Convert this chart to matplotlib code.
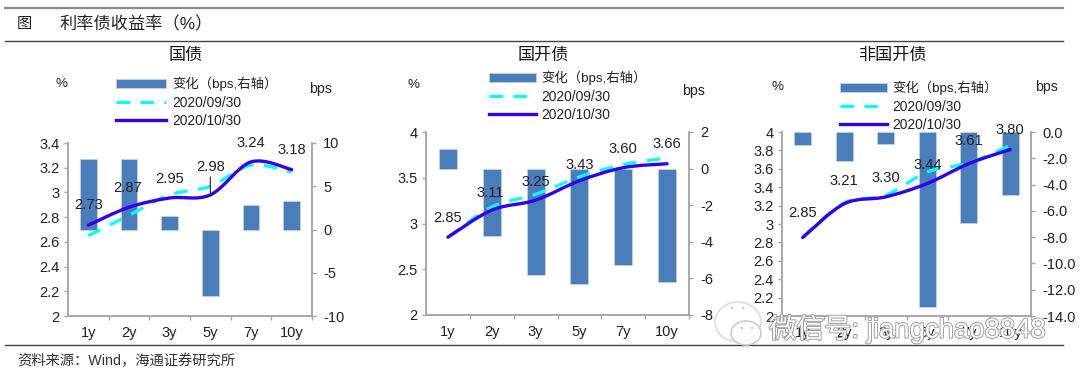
import numpy as np
import matplotlib
matplotlib.use('Agg')
import matplotlib.pyplot as plt
from matplotlib.patches import PathPatch, Ellipse
from matplotlib.path import Path
from matplotlib.lines import Line2D
import matplotlib.patheffects as pe

plt.rcParams['font.family'] = ['Liberation Sans', 'Noto Sans CJK SC', 'DejaVu Sans']

W, H = 1080, 379

cats = ['1y', '2y', '3y', '5y', '7y', '10y']

# 国债
gz_change = [8.2, 8.2, 1.6, -7.7, 2.8, 3.35]
gz_sep = [2.65, 2.815, 2.98, 3.05, 3.22, 3.165]
gz_oct = [2.735, 2.88, 2.955, 2.98, 3.247, 3.185]
gz_labels = ['2.73', '2.87', '2.95', '2.98', '3.24', '3.18']

# 国开债
gk_change = [1.08, -3.7, -5.8, -6.3, -5.25, -6.2]
gk_sep = [2.85, 3.18, 3.32, 3.51, 3.645, 3.715]
gk_oct = [2.85, 3.146, 3.255, 3.467, 3.61, 3.653]
gk_labels = ['2.85', '3.11', '3.25', '3.43', '3.60', '3.66']

# 非国开债
fg_change = [-1.0, -2.2, -0.9, -13.3, -6.9, -4.8]
fg_sep = [2.86, 3.23, 3.313, 3.566, 3.664, 3.855]
fg_oct = [2.853, 3.22, 3.295, 3.44, 3.656, 3.81]
fg_labels = ['2.85', '3.21', '3.30', '3.44', '3.61', '3.80']

BAR = '#4a7ebb'
GRAY = '#a6a6a6'
TXT = '#222222'
DASH = (0, (4.2, 3.3))


def fx(x):
    return x / W


def fy(y):
    return 1 - y / H


def smooth(xs, ys):
    # excel style smoothed line, goes through the values
    xs, ys = np.asarray(xs, float), np.asarray(ys, float)
    verts = [(xs[0], ys[0])]
    codes = [Path.MOVETO]
    n = len(xs)
    for i in range(n - 1):
        a, d = max(i - 1, 0), min(i + 2, n - 1)
        verts.append((xs[i] + (xs[i + 1] - xs[a]) / 6, ys[i] + (ys[i + 1] - ys[a]) / 6))
        verts.append((xs[i + 1] - (xs[d] - xs[i]) / 6, ys[i + 1] - (ys[d] - ys[i]) / 6))
        verts.append((xs[i + 1], ys[i + 1]))
        codes += [Path.CURVE4] * 3
    return Path(verts, codes)


def panel(box, title, title_x, change, sep, oct_, labels, offs, ylim, yticks, ylabs,
          rlim, rticks, rlabs, leg_xy, pct_xy, bps_xy, hlen=3.66, bar_w=0.41):
    l, t, r, b = box
    ax = fig.add_axes([fx(l), fy(b), (r - l) / W, (b - t) / H])
    ax2 = ax.twinx()
    x = np.arange(len(cats))
    ax2.bar(x, change, width=bar_w, color=BAR, edgecolor='#c5d5ea', linewidth=0.5)
    ax2.set_ylim(*rlim)
    ax2.set_yticks(rticks)
    ax2.set_yticklabels(rlabs)

    ax.set_zorder(ax2.get_zorder() + 1)
    ax.patch.set_visible(False)
    ax.set_xlim(-0.5, len(cats) - 0.5)
    ax.set_ylim(*ylim)
    ax.set_yticks(yticks)
    ax.set_yticklabels(ylabs)
    ax.set_xticks(x + 0.5)
    ax.set_xticklabels([])
    ax.set_xticks(x, minor=True)
    ax.set_xticklabels(cats, minor=True)
    ax.tick_params(axis='x', which='minor', length=0, labelsize=10.5, labelcolor=TXT, pad=7)
    ax.tick_params(axis='x', which='major', length=3, color=GRAY, width=1)
    ax.tick_params(axis='y', length=3, color=GRAY, width=1, labelsize=10.5, labelcolor=TXT, pad=3)
    ax2.tick_params(axis='y', length=3, color=GRAY, width=1, labelsize=10.5, labelcolor=TXT, pad=5)
    for a in (ax, ax2):
        a.spines['top'].set_visible(False)
        for s in ('left', 'right', 'bottom'):
            a.spines[s].set_color(GRAY)
            a.spines[s].set_linewidth(1.1)

    ax.add_patch(PathPatch(smooth(x, sep), fill=False, edgecolor='#00ffff', lw=2.3,
                           linestyle=DASH, zorder=3))
    ax.add_patch(PathPatch(smooth(x, oct_), fill=False, edgecolor='#3300ee', lw=2.4,
                           capstyle='round', zorder=4))

    for i, lab in enumerate(labels):
        ax.annotate(lab, (x[i], oct_[i]), xytext=offs[i], textcoords='offset pixels',
                    ha='center', va='center', fontsize=10.6, color=TXT, zorder=6)

    handles = [
        plt.Rectangle((0, 0), 1, 1, facecolor=BAR, edgecolor='#c5d5ea', linewidth=0.5),
        Line2D([0], [0], color='#00ffff', lw=2.3, linestyle=DASH),
        Line2D([0], [0], color='#3300ee', lw=2.4),
    ]
    leg = fig.legend(handles, ['变化（bps,右轴）', '2020/09/30', '2020/10/30'],
                     loc='upper left', bbox_to_anchor=(fx(leg_xy[0]), fy(leg_xy[1])),
                     frameon=False, fontsize=9.9, handlelength=hlen, handleheight=0.65,
                     labelspacing=0.3, handletextpad=0.42, borderpad=0, borderaxespad=0)
    for txt in leg.get_texts():
        txt.set_color(TXT)
    leg.get_texts()[0].set_fontsize(9.6)

    fig.text(fx(title_x), fy(55), title, ha='center', va='center', fontsize=12.3,
             color='#111111', fontweight='medium')
    fig.text(fx(pct_xy[0]), fy(pct_xy[1]), '%', ha='center', va='center', fontsize=9.6, color=TXT)
    fig.text(fx(bps_xy[0]), fy(bps_xy[1]), 'bps', ha='center', va='center', fontsize=10.2, color=TXT)
    return ax, ax2


fig = plt.figure(figsize=(W / 100, H / 100), dpi=100)

ax1, _ = panel((68, 143, 312, 316), '国债', 186, gz_change, gz_sep, gz_oct, gz_labels,
               [(0, 20), (-1, 19), (0, 19), (0, 28), (0, 19), (0, 20)],
               (2, 3.4), [2, 2.2, 2.4, 2.6, 2.8, 3, 3.2, 3.4],
               ['2', '2.2', '2.4', '2.6', '2.8', '3', '3.2', '3.4'],
               (-10, 10), [-10, -5, 0, 5, 10], ['-10', '-5', '0', '5', '10'],
               (116, 77), (61, 84), (320, 89))
# leader line of the 5y label
ax1.annotate('', (3, gz_oct[3]), xytext=(0, 18), textcoords='offset pixels',
             arrowprops=dict(arrowstyle='-', color='#222222', lw=0.8, shrinkA=0, shrinkB=0), zorder=5)

panel((426, 132, 689, 315), '国开债', 543, gk_change, gk_sep, gk_oct, gk_labels,
      [(0, 19), (-1, 17), (0, 18), (0, 16), (0, 19), (0, 20)],
      (2, 4), [2, 2.5, 3, 3.5, 4], ['2', '2.5', '3', '3.5', '4'],
      (-8, 2), [-8, -6, -4, -2, 0, 2], ['-8', '-6', '-4', '-2', '0', '2'],
      (489, 71), (414, 85), (693, 91), hlen=3.4)

panel((782, 132, 1031, 316), '非国开债', 892, fg_change, fg_sep, fg_oct, fg_labels,
      [(0, 25), (0, 23), (0, 19), (0, 19), (0, 23), (0, 19)],
      (2, 4), [2, 2.2, 2.4, 2.6, 2.8, 3, 3.2, 3.4, 3.6, 3.8, 4],
      ['2', '2.2', '2.4', '2.6', '2.8', '3', '3.2', '3.4', '3.6', '3.8', '4'],
      (-14, 0), [-14, -12, -10, -8, -6, -4, -2, 0],
      ['-14.0', '-12.0', '-10.0', '-8.0', '-6.0', '-4.0', '-2.0', '0.0'],
      (840, 81), (777, 87), (1046, 87), hlen=3.4)

# rules and page text
bg = fig.add_axes([0, 0, 1, 1], zorder=-5)
bg.set_xlim(0, W)
bg.set_ylim(H, 0)
bg.axis('off')
bg.plot([5, 1063], [8, 8], color='#888888', lw=1.6)
bg.plot([5, 1063], [41, 41], color='#444444', lw=1.0)
bg.plot([5, 1063], [345, 345], color='#444444', lw=1.0)

fig.text(fx(17), fy(24), '图', ha='left', va='center', fontsize=11, color='#222222')
fig.text(fx(60), fy(24), '利率债收益率（%）', ha='left', va='center', fontsize=12.4, color='#222222')
fig.text(fx(17), fy(361), '资料来源：Wind，海通证券研究所', ha='left', va='center', fontsize=10.3, color='#333333')

# watermark on top of everything
wm = fig.add_axes([0, 0, 1, 1], zorder=20)
wm.set_xlim(0, W)
wm.set_ylim(H, 0)
wm.axis('off')
wm.patch.set_visible(False)
wm.add_patch(Ellipse((738, 322), 46, 40, facecolor='none', edgecolor='#dddddd', lw=1.2))
wm.add_patch(Ellipse((746, 333), 30, 24, facecolor=(1, 1, 1, 0.7), edgecolor='#cccccc', lw=1.2))
for ex, ey in [(732, 308), (743, 308), (742, 328), (752, 328)]:
    wm.add_patch(Ellipse((ex, ey), 2.5, 2.5, facecolor='#cccccc', edgecolor='none'))
wm.text(769, 329, '微信号: jiangchao8848', ha='left', va='center', fontsize=19.8,
        color='white', path_effects=[pe.withStroke(linewidth=1.3, foreground='#999999')])

fig.savefig('out.png', dpi=100)
